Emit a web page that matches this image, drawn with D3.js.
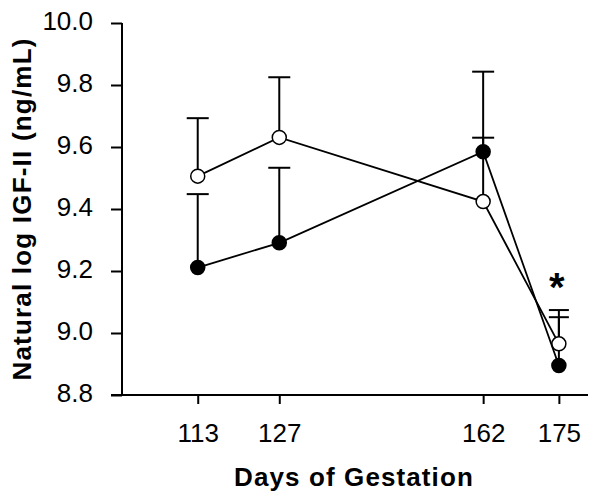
<!DOCTYPE html>
<html><head><meta charset="utf-8">
<script src="https://cdn.jsdelivr.net/npm/d3@7"></script>
<style>html,body{margin:0;padding:0;background:#fff;}svg{display:block;}</style>
</head><body>
<svg id="c" width="600" height="499"></svg>
<script>
const days = [113, 127, 162, 175];
const openMean = [9.506, 9.631, 9.424, 8.965];
const openUpper = [9.693, 9.825, 9.843, 9.074];
const filledMean = [9.211, 9.291, 9.585, 8.895];
const filledUpper = [9.448, 9.533, 9.630, 9.051];
const yTicks = [8.8, 9.0, 9.2, 9.4, 9.6, 9.8, 10.0];
const xTicks = [113, 127, 162, 175];
const yTitle = "Natural log IGF-II  (ng/mL)";
const xTitle = "Days of Gestation";
const sigDay = 175, sigValue = 9.18;

const svg = d3.select("#c");
const x = d3.scaleLinear().domain([100, 180]).range([122, 588]);
const y = d3.scaleLinear().domain([8.8, 10.0]).range([395, 23]);
const font = "'Liberation Sans', Arial, sans-serif";

// y axis
const ya = svg.append("g").attr("transform", "translate(122,0)")
  .call(d3.axisLeft(y).tickValues(yTicks).tickFormat(d3.format(".1f")).tickSize(11).tickPadding(18));
ya.select(".domain").attr("stroke", "#000").attr("stroke-width", 2).attr("d", "M0,23V395");
ya.selectAll(".tick line").attr("stroke", "#000").attr("stroke-width", 2);
ya.selectAll(".tick text").attr("font-family", font).attr("font-size", 26).attr("fill", "#000")
  .attr("dy", "0.25em");

// x axis
const xa = svg.append("g").attr("transform", "translate(0,395)")
  .call(d3.axisBottom(x).tickValues(xTicks).tickFormat(d3.format("d")).tickSize(9).tickPadding(20));
xa.select(".domain").attr("stroke", "#000").attr("stroke-width", 2).attr("d", "M111,0H588");
xa.selectAll(".tick line").attr("stroke", "#000").attr("stroke-width", 2);
xa.selectAll(".tick text").attr("font-family", font).attr("font-size", 26).attr("fill", "#000");

// titles
svg.append("text").attr("transform", "translate(31,209) rotate(-90)")
  .attr("text-anchor", "middle").attr("font-family", font).attr("font-weight", "bold")
  .attr("font-size", 26).attr("letter-spacing", 1.2).attr("fill", "#000").text(yTitle);
svg.append("text").attr("x", 354).attr("y", 486)
  .attr("text-anchor", "middle").attr("font-family", font).attr("font-weight", "bold")
  .attr("font-size", 26).attr("letter-spacing", 1.1).attr("fill", "#000").text(xTitle);

function series(mean, upper, filled) {
  const data = days.map((d, i) => ({d, m: mean[i], u: upper[i]}));
  const g = svg.append("g");
  g.selectAll("line.eb").data(data).join("line").attr("class", "eb")
    .attr("x1", p => x(p.d)).attr("x2", p => x(p.d))
    .attr("y1", p => y(p.m)).attr("y2", p => y(p.u))
    .attr("stroke", "#000").attr("stroke-width", 2);
  g.selectAll("line.cap").data(data).join("line").attr("class", "cap")
    .attr("x1", p => x(p.d) - (p.d === 175 ? 10 : 11)).attr("x2", p => x(p.d) + (p.d === 175 ? 10 : 11))
    .attr("y1", p => y(p.u)).attr("y2", p => y(p.u))
    .attr("stroke", "#000").attr("stroke-width", 2);
  g.append("path").datum(data)
    .attr("d", d3.line().x(p => x(p.d)).y(p => y(p.m)))
    .attr("fill", "none").attr("stroke", "#000").attr("stroke-width", 1.8);
  g.selectAll("circle").data(data).join("circle")
    .attr("cx", p => x(p.d)).attr("cy", p => y(p.m)).attr("r", 7)
    .attr("fill", filled ? "#000" : "#fff").attr("stroke", "#000").attr("stroke-width", 1.5);
}
series(filledMean, filledUpper, true);
series(openMean, openUpper, false);

svg.append("text").attr("x", x(sigDay) - 2).attr("y", y(sigValue) + 24)
  .attr("text-anchor", "middle").attr("font-family", font).attr("font-weight", "bold")
  .attr("font-size", 40).attr("fill", "#000").text("*");
</script>
</body></html>
